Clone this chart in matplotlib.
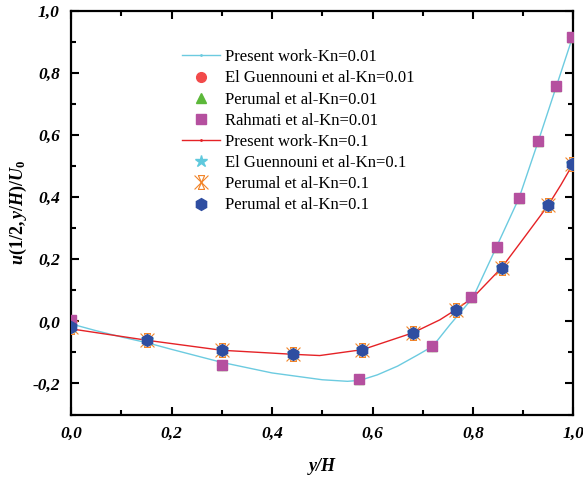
import matplotlib
matplotlib.use("Agg")
import matplotlib.pyplot as plt
from matplotlib.ticker import MultipleLocator, FuncFormatter
from matplotlib.lines import Line2D
from matplotlib.path import Path

# ---- data ----
# Present work curves
line01_x = [0.0, 0.05, 0.1, 0.152, 0.2, 0.3, 0.4, 0.5, 0.55, 0.575, 0.61, 0.65, 0.69, 0.72, 0.754, 0.8, 0.847, 0.892, 0.93, 0.966, 1.0]
line01_y = [-0.008, -0.03, -0.05, -0.069, -0.09, -0.132, -0.166, -0.188, -0.193, -0.19, -0.172, -0.144, -0.108, -0.08, -0.011, 0.077, 0.241, 0.399, 0.581, 0.758, 0.925]

line1_x = [0.0, 0.152, 0.3, 0.442, 0.495, 0.58, 0.68, 0.734, 0.766, 0.8, 0.857, 0.9, 0.95, 0.975, 1.0]
line1_y = [-0.024, -0.061, -0.093, -0.106, -0.110, -0.091, -0.037, 0.005, 0.038, 0.077, 0.173, 0.266, 0.375, 0.44, 0.51]

# Reference data Kn=0.01
ref01_x = [0.0, 0.3, 0.573, 0.718, 0.797, 0.847, 0.892, 0.930, 0.966, 0.998]
ref01_y = [0.005, -0.139, -0.187, -0.080, 0.077, 0.241, 0.399, 0.581, 0.758, 0.915]

# Reference data Kn=0.1
ref1_x = [0.0, 0.152, 0.3, 0.441, 0.579, 0.680, 0.766, 0.857, 0.950, 0.998]
ref1_y = [-0.019, -0.061, -0.093, -0.105, -0.091, -0.037, 0.038, 0.173, 0.375, 0.508]

labels = ["Present work-Kn=0.01", "El Guennouni et al-Kn=0.01", "Perumal et al-Kn=0.01",
          "Rahmati et al-Kn=0.01", "Present work-Kn=0.1", "El Guennouni et al-Kn=0.1",
          "Perumal et al-Kn=0.1", "Perumal et al-Kn=0.1"]

xticks = [0.0, 0.2, 0.4, 0.6, 0.8, 1.0]
yticks = [-0.2, 0.0, 0.2, 0.4, 0.6, 0.8, 1.0]

# ---- styling ----
plt.rcParams['font.family'] = ['Liberation Serif', 'DejaVu Serif']
plt.rcParams['mathtext.fontset'] = 'custom'
plt.rcParams['mathtext.it'] = 'Liberation Serif:italic:bold'
plt.rcParams['mathtext.rm'] = 'Liberation Serif:bold'
plt.rcParams['mathtext.bf'] = 'Liberation Serif:bold:italic'

fig = plt.figure(figsize=(5.83, 4.78), dpi=100)
ax = fig.add_axes([0.1218, 0.1328, 0.9837 - 0.1218, 0.977 - 0.1328])

c_cyan = '#6ccbe0'
c_red = '#e52226'

# custom cross marker (X lattice)
verts = [(-1, -1), (1, 1), (-1, 1), (1, -1),
         (-0.45, -1), (0.45, 1), (-0.45, 1), (0.45, -1),
         (-0.45, 1), (0.45, 1), (-0.45, -1), (0.45, -1)]
codes = [Path.MOVETO, Path.LINETO] * 6
xmark = Path(verts, codes)

ax.plot(line01_x, line01_y, '-', color=c_cyan, lw=1.0, zorder=2)
ax.plot(line1_x, line1_y, '-', color=c_red, lw=1.0, zorder=2)
h1 = Line2D([], [], color=c_cyan, lw=1.0, marker='.', ms=2)
h5 = Line2D([], [], color=c_red, lw=1.0, marker='.', ms=2)

h2, = ax.plot(ref01_x, ref01_y, 'o', color='#f24a4a', ms=7, ls='none', zorder=3)
h3, = ax.plot(ref01_x, ref01_y, '^', color='#5cb83a', ms=7, ls='none', zorder=4)
h4, = ax.plot(ref01_x, ref01_y, 's', color='#b5509f', ms=7, ls='none', zorder=5)

h6, = ax.plot(ref1_x, ref1_y, '*', color='#5fc9dd', ms=9, ls='none', zorder=3)
h7, = ax.plot(ref1_x, ref1_y, marker=xmark, color='#f2852a', mfc='none', mec='#f2852a',
              mew=0.8, ms=10, ls='none', zorder=4)
h8, = ax.plot(ref1_x, ref1_y, 'h', color='#2f4ea1', ms=8.5, ls='none', zorder=5)

ax.set_xlim(0.0, 1.0)
ax.set_ylim(-0.3, 1.0)
ax.set_xticks(xticks)
ax.set_yticks(yticks)
ax.xaxis.set_minor_locator(MultipleLocator(0.1))
ax.yaxis.set_minor_locator(MultipleLocator(0.1))
fmt = FuncFormatter(lambda v, p: ("%.1f" % v).replace('.', ',').replace('-0,0', '0,0'))
ax.xaxis.set_major_formatter(fmt)
ax.yaxis.set_major_formatter(fmt)

for s in ax.spines.values():
    s.set_linewidth(1.6)
ax.tick_params(which='major', direction='in', length=6, width=1.5, top=True, right=True,
               labelsize=12.5, pad=8)
ax.tick_params(which='minor', direction='in', length=3.5, width=1.5, top=True, right=True)
for lab in ax.get_xticklabels() + ax.get_yticklabels():
    lab.set_fontweight('bold')
    lab.set_fontstyle('italic')

ax.set_xlabel('y/H', fontsize=13, fontweight='bold', fontstyle='italic', labelpad=12)
ax.set_ylabel(r'$u(1/2,y/H)/U_0$', fontsize=13, labelpad=2)

leg = ax.legend([h1, h2, h3, h4, h5, h6, h7, h8], labels, frameon=False,
                loc='upper left', bbox_to_anchor=(0.2, 0.93), fontsize=12,
                handlelength=2.3, handletextpad=0.3, labelspacing=0.31,
                borderaxespad=0.2)

fig.savefig('out.png', dpi=100)
